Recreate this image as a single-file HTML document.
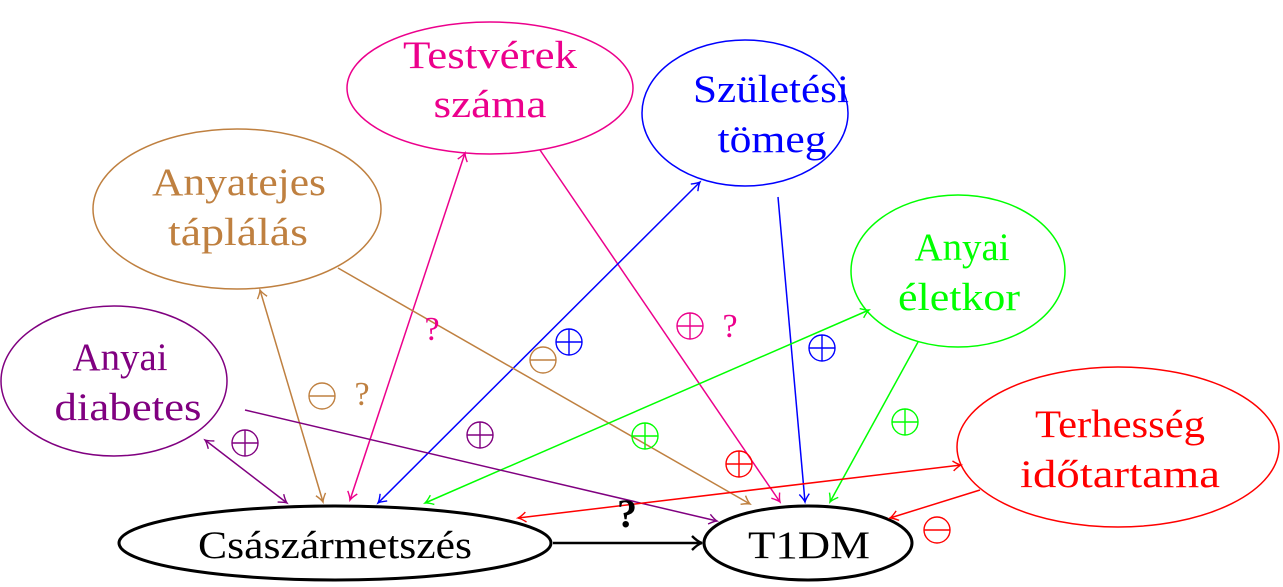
<!DOCTYPE html>
<html><head><meta charset="utf-8"><style>
html,body{margin:0;padding:0;background:#fff}
svg{display:block}
text{font-family:"Liberation Serif",serif;font-size:39px;text-anchor:middle}
</style></head><body>
<svg width="1283" height="587" viewBox="0 0 1283 587" xmlns="http://www.w3.org/2000/svg">
<defs>
<marker id="a" viewBox="-10 -6 12 12" refX="0" refY="0" markerWidth="12" markerHeight="12" orient="auto-start-reverse" markerUnits="userSpaceOnUse">
<path d="M-8,-5 Q-3,-1 0,0 Q-3,1 -8,5" fill="none" stroke="context-stroke" stroke-width="1.4"/>
</marker>
<marker id="b" viewBox="-12 -8 14 16" refX="0" refY="0" markerWidth="14" markerHeight="16" orient="auto" markerUnits="userSpaceOnUse">
<path d="M-10,-7 Q-4,-1 0,0 Q-4,1 -10,7" fill="none" stroke="#000" stroke-width="2.4"/>
</marker>
<g id="p"><circle r="13" fill="none" stroke-width="1.4"/><line x1="-13" x2="13" stroke-width="1.4"/><line y1="-13" y2="13" stroke-width="1.4"/></g>
<g id="m"><circle r="13" fill="none" stroke-width="1.4"/><line x1="-13" x2="13" stroke-width="1.4"/></g>
</defs>
<g fill="none" stroke-width="1.5">
<ellipse cx="490" cy="88" rx="143" ry="66" stroke="#ec008c"/>
<ellipse cx="745" cy="113" rx="103" ry="73" stroke="#0000ff"/>
<ellipse cx="237" cy="209" rx="144" ry="80" stroke="#bf8040"/>
<ellipse cx="958" cy="271" rx="107" ry="76" stroke="#00ff00"/>
<ellipse cx="114" cy="381" rx="113" ry="75" stroke="#800080"/>
<ellipse cx="1118" cy="447" rx="161" ry="80" stroke="#ff0000"/>
<ellipse cx="335" cy="543" rx="216" ry="37" stroke="#000" stroke-width="3"/>
<ellipse cx="808" cy="543" rx="104" ry="37" stroke="#000" stroke-width="3"/>
<line x1="553" y1="543" x2="702" y2="543" stroke="#000" stroke-width="2.5" marker-end="url(#b)"/>
<line x1="350" y1="500" x2="465" y2="153" stroke="#ec008c" marker-start="url(#a)" marker-end="url(#a)"/>
<line x1="540" y1="150" x2="780" y2="502" stroke="#ec008c" marker-end="url(#a)"/>
<line x1="378" y1="503" x2="700" y2="182" stroke="#0000ff" marker-start="url(#a)" marker-end="url(#a)"/>
<line x1="778" y1="197" x2="805" y2="502" stroke="#0000ff" marker-end="url(#a)"/>
<line x1="323" y1="502" x2="260" y2="290" stroke="#bf8040" marker-start="url(#a)" marker-end="url(#a)"/>
<line x1="338" y1="268" x2="750" y2="504" stroke="#bf8040" marker-end="url(#a)"/>
<line x1="425" y1="503" x2="869" y2="310" stroke="#00ff00" marker-start="url(#a)" marker-end="url(#a)"/>
<line x1="918" y1="342" x2="830" y2="502" stroke="#00ff00" marker-end="url(#a)"/>
<line x1="205" y1="440" x2="287" y2="503" stroke="#800080" marker-start="url(#a)" marker-end="url(#a)"/>
<line x1="245" y1="410" x2="717" y2="521" stroke="#800080" marker-end="url(#a)"/>
<line x1="518" y1="518" x2="961" y2="465" stroke="#ff0000" marker-start="url(#a)" marker-end="url(#a)"/>
<line x1="980" y1="490" x2="890" y2="518" stroke="#ff0000" marker-end="url(#a)"/>
</g>
<use href="#m" x="543" y="360" stroke="#bf8040"/>
<use href="#p" x="569" y="342" stroke="#0000ff"/>
<use href="#p" x="690" y="326" stroke="#ec008c"/>
<use href="#p" x="645" y="436" stroke="#00ff00"/>
<use href="#p" x="739" y="464" stroke="#ff0000"/>
<use href="#p" x="822" y="348" stroke="#0000ff"/>
<use href="#p" x="905" y="422" stroke="#00ff00"/>
<use href="#p" x="480" y="435" stroke="#800080"/>
<use href="#p" x="245" y="443" stroke="#800080"/>
<use href="#m" x="322" y="396" stroke="#bf8040"/>
<use href="#m" x="937" y="530" stroke="#ff0000"/>
<text x="730" y="337" fill="#ec008c" style="font-size:34px">?</text>
<text x="432" y="340" fill="#ec008c" style="font-size:34px">?</text>
<text x="362" y="405" fill="#bf8040" style="font-size:34px">?</text>
<text x="627" y="527" fill="#000" style="font-size:40px;font-weight:bold">?</text>
<text x="490" y="68" fill="#ec008c" textLength="174" lengthAdjust="spacingAndGlyphs">Testvérek</text>
<text x="490" y="117" fill="#ec008c" textLength="113" lengthAdjust="spacingAndGlyphs">száma</text>
<text x="771" y="102" fill="#0000ff" textLength="156" lengthAdjust="spacingAndGlyphs">Születési</text>
<text x="772" y="152" fill="#0000ff" textLength="109" lengthAdjust="spacingAndGlyphs">tömeg</text>
<text x="239" y="195" fill="#bf8040" textLength="174" lengthAdjust="spacingAndGlyphs">Anyatejes</text>
<text x="238" y="245" fill="#bf8040" textLength="140" lengthAdjust="spacingAndGlyphs">táplálás</text>
<text x="962" y="260" fill="#00ff00" textLength="95" lengthAdjust="spacingAndGlyphs">Anyai</text>
<text x="959" y="310" fill="#00ff00" textLength="122" lengthAdjust="spacingAndGlyphs">életkor</text>
<text x="120" y="370" fill="#800080" textLength="95" lengthAdjust="spacingAndGlyphs">Anyai</text>
<text x="128" y="420" fill="#800080" textLength="147" lengthAdjust="spacingAndGlyphs">diabetes</text>
<text x="1120" y="437" fill="#ff0000" textLength="170" lengthAdjust="spacingAndGlyphs">Terhesség</text>
<text x="1120" y="487" fill="#ff0000" textLength="200" lengthAdjust="spacingAndGlyphs">időtartama</text>
<text x="335" y="558" fill="#000" textLength="274" lengthAdjust="spacingAndGlyphs">Császármetszés</text>
<text x="809" y="558" fill="#000" textLength="122" lengthAdjust="spacingAndGlyphs">T1DM</text>
</svg>
</body></html>
